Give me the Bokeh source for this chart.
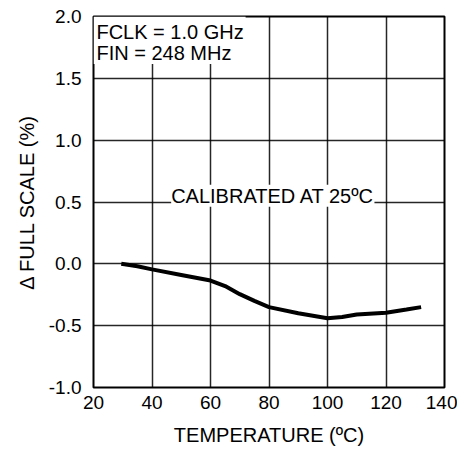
from bokeh.plotting import figure
from bokeh.models import Range1d, Label, BoxAnnotation, FixedTicker
from bokeh.embed import file_html
from bokeh.resources import INLINE

temperature = [29.5, 35, 40, 50, 60, 65, 70, 75, 80, 90, 95, 100, 105, 110, 120, 127, 132]
delta_fs = [0.0, -0.02, -0.045, -0.09, -0.135, -0.18, -0.245, -0.30, -0.35, -0.40, -0.42, -0.44, -0.43, -0.41, -0.395, -0.37, -0.35]
x_ticks = [20, 40, 60, 80, 100, 120, 140]
y_ticks = [-1.0, -0.5, 0.0, 0.5, 1.0, 1.5, 2.0]

FONT = "Liberation Sans"

p = figure(width=457, height=451, output_backend="svg", toolbar_location=None,
           x_range=Range1d(20, 140), y_range=Range1d(-1.0, 2.0),
           min_border_left=93, min_border_right=13, min_border_top=16, min_border_bottom=64)

p.background_fill_color = "white"
p.border_fill_color = "white"
p.outline_line_color = "black"
p.outline_line_width = 2

for g in (p.xgrid, p.ygrid):
    g.grid_line_color = "black"
    g.grid_line_width = 1.5
    g.grid_line_alpha = 0.85
p.xgrid.ticker = FixedTicker(ticks=x_ticks)
p.ygrid.ticker = FixedTicker(ticks=y_ticks)

p.xaxis.ticker = FixedTicker(ticks=x_ticks)
p.yaxis.ticker = FixedTicker(ticks=y_ticks)
p.yaxis.major_label_overrides = {v: f"{v:.1f}" for v in y_ticks}
for ax in (p.xaxis, p.yaxis):
    ax.axis_line_color = None
    ax.major_tick_line_color = None
    ax.minor_tick_line_color = None
    ax.major_tick_out = 0
    ax.major_tick_in = 0
    ax.major_label_text_font = FONT
    ax.major_label_text_font_size = "19px"
    ax.major_label_text_color = "black"
    ax.axis_label_text_font = FONT
    ax.axis_label_text_font_size = "20px"
    ax.axis_label_text_font_style = "normal"
    ax.axis_label_text_color = "black"
p.xaxis.major_label_standoff = 8
p.yaxis.major_label_standoff = 12
p.xaxis.axis_label = "TEMPERATURE (ºC)"
p.yaxis.axis_label = "Δ FULL SCALE (%)"
p.xaxis.axis_label_standoff = 12
p.yaxis.axis_label_standoff = 8

p.line(temperature, delta_fs, line_color="black", line_width=4)

box = BoxAnnotation(left=20, right=72, bottom=1.615, top=2.0,
                    fill_color="white", fill_alpha=1.0, line_color=None)
p.add_layout(box)

p.add_layout(Label(x=21.0, y=1.965, text="FCLK = 1.0 GHz", text_font=FONT,
                   text_font_size="20px", text_color="black", text_baseline="top"))
p.add_layout(Label(x=21.0, y=1.79, text="FIN = 248 MHz", text_font=FONT,
                   text_font_size="20px", text_color="black", text_baseline="top"))
p.add_layout(Label(x=81.3, y=0.55, text="CALIBRATED AT 25ºC", text_font=FONT,
                   text_font_size="20px", text_color="black", text_align="center",
                   text_baseline="middle", background_fill_color="white",
                   background_fill_alpha=1.0))

open("out.html", "w").write(file_html(p, INLINE))
